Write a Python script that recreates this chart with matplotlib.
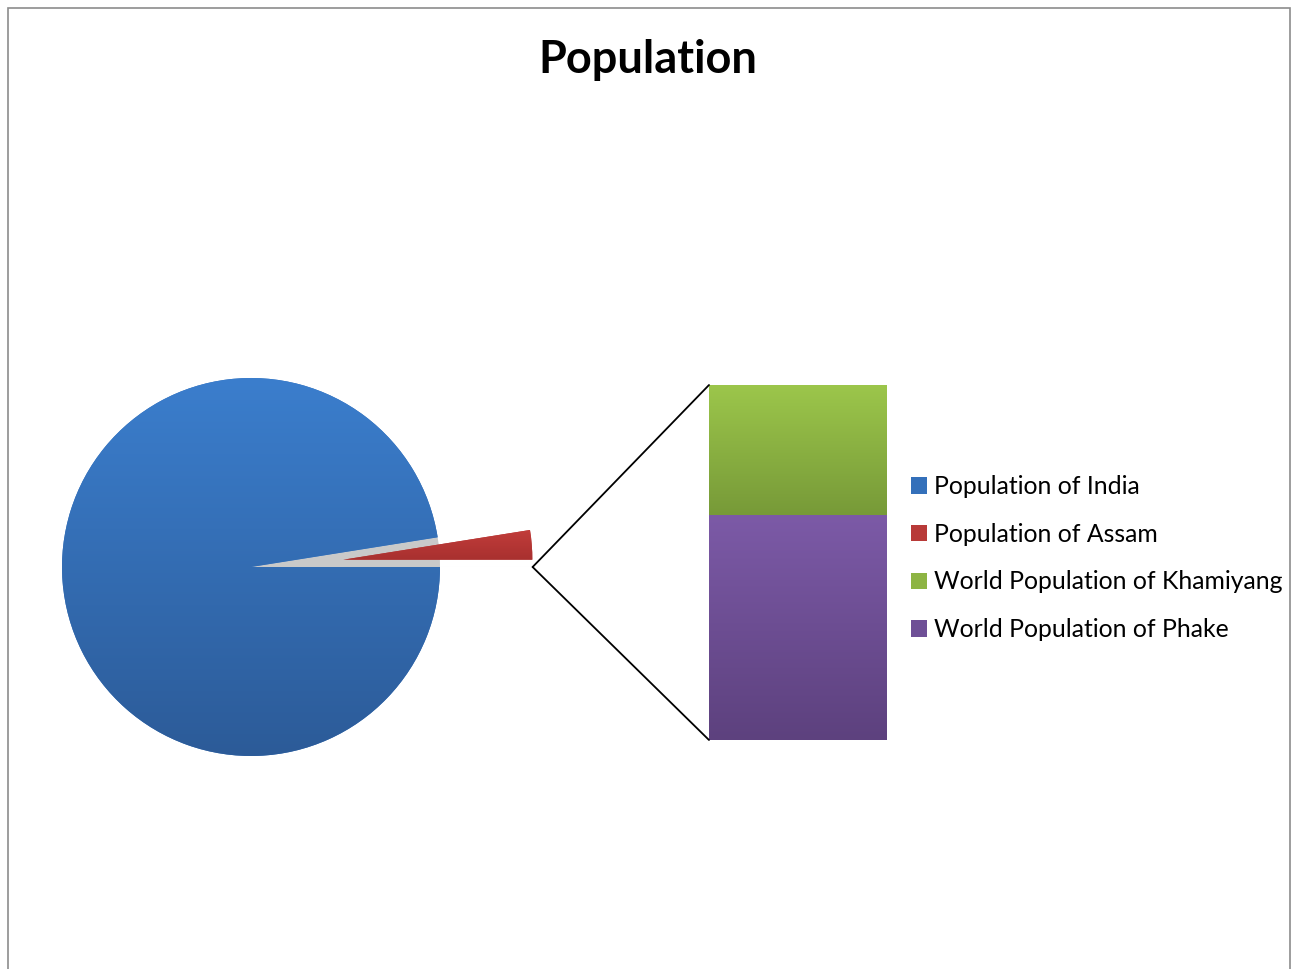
import numpy as np
import matplotlib
matplotlib.use("Agg")
import matplotlib.pyplot as plt
from matplotlib.colors import LinearSegmentedColormap
from matplotlib.patches import Wedge, Rectangle, ConnectionPatch, Patch

# population figures
pie_labels = ["Other", "Population of Assam", "Population of India"]
pie_values = [4100, 31205576, 1210854977]
bar_labels = ["World Population of Phake", "World Population of Khamiyang"]
bar_values = [2600, 1500]

W, H = 1296, 969
fig = plt.figure(figsize=(W / 100, H / 100), dpi=100)
fig.patch.set_facecolor("white")

# chart area border
fig.patches.append(Rectangle((8 / W, -0.01), (1290 - 8) / W, 1 - 8 / H + 0.01,
                             transform=fig.transFigure, fill=False,
                             edgecolor="#8c8c8c", linewidth=1.2))

fig.text(648 / W, 1 - 60 / H, "Population", ha="center", va="center",
         fontsize=32.5, fontweight="bold", family="Lato")


def gradient_fill(ax, patch, top, bottom, extent):
    grad = np.linspace(0, 1, 256)[:, None]
    cmap = LinearSegmentedColormap.from_list("g", [top, bottom])
    im = ax.imshow(grad, cmap=cmap, extent=extent, aspect="auto",
                   origin="upper", zorder=patch.get_zorder() + 0.1)
    im.set_clip_path(patch)


# pie (units are pixels, centre at 251,567)
R = 189
pull = 0.49 * R
pie_ax = fig.add_axes([0, (H - 567 - 300) / H, 620 / W, 600 / H])
wedges, _ = pie_ax.pie(pie_values, radius=R, startangle=0, counterclock=True,
                       explode=[pull, pull, 0], colors=["#9a9a9a", "#b83a38", "#3470ba"],
                       wedgeprops=dict(linewidth=0))
other_w, assam_w, india_w = wedges

# shadow left in the gap of the pulled-out slice
pie_ax.add_patch(Wedge((0, 0), R, assam_w.theta1, assam_w.theta2,
                       facecolor="#c9c9c9", linewidth=0, zorder=0.5))

gradient_fill(pie_ax, india_w, "#3b7ecd", "#2c5b98", (-R, R, -R, R))
cx, cy = assam_w.center
gradient_fill(pie_ax, assam_w, "#c8403d", "#a8302f", (cx, cx + R, cy, cy + R * 0.2))

pie_ax.set_xlim(-251, 369)
pie_ax.set_ylim(-300, 300)
pie_ax.set_aspect("equal")
pie_ax.axis("off")

# stacked bar of the split-off slice
bar_ax = fig.add_axes([709 / W, (H - 740) / H, 178 / W, 355 / H])
bottom = 0
bar_colors = [("#7c5aa7", "#5d417e"), ("#9cc64b", "#779a38")]
for val, (c_top, c_bot) in zip(bar_values, bar_colors):
    b = bar_ax.bar(0, val, width=1, bottom=bottom, color=c_top, linewidth=0)[0]
    gradient_fill(bar_ax, b, c_top, c_bot, (-0.5, 0.5, bottom, bottom + val))
    bottom += val
total = sum(bar_values)
bar_ax.set_xlim(-0.5, 0.5)
bar_ax.set_ylim(0, total)
bar_ax.axis("off")

# connector lines from the pulled-out slice tip to the bar
mid = np.deg2rad((other_w.theta1 + other_w.theta2) / 2)
ox, oy = other_w.center
tip = (ox + R * np.cos(mid), oy + R * np.sin(mid))
for yb in (total, 0):
    con = ConnectionPatch(xyA=tip, coordsA="data", axesA=pie_ax,
                          xyB=(-0.5, yb), coordsB="data", axesB=bar_ax,
                          color="black", linewidth=1.3)
    fig.add_artist(con)

handles = [Patch(facecolor="#3470ba"), Patch(facecolor="#b83a38"),
           Patch(facecolor="#8db443"), Patch(facecolor="#6e4f96")]
labels = ["Population of India", "Population of Assam",
          "World Population of Khamiyang", "World Population of Phake"]
fig.legend(handles, labels, loc="upper left", bbox_to_anchor=(911 / W, 1 - 475 / H),
           frameon=False, prop=dict(family="Lato", size=17.8),
           handlelength=0.65, handleheight=0.65, handletextpad=0.3,
           labelspacing=1.0, borderaxespad=0, borderpad=0)

fig.savefig("out.png", dpi=100)
